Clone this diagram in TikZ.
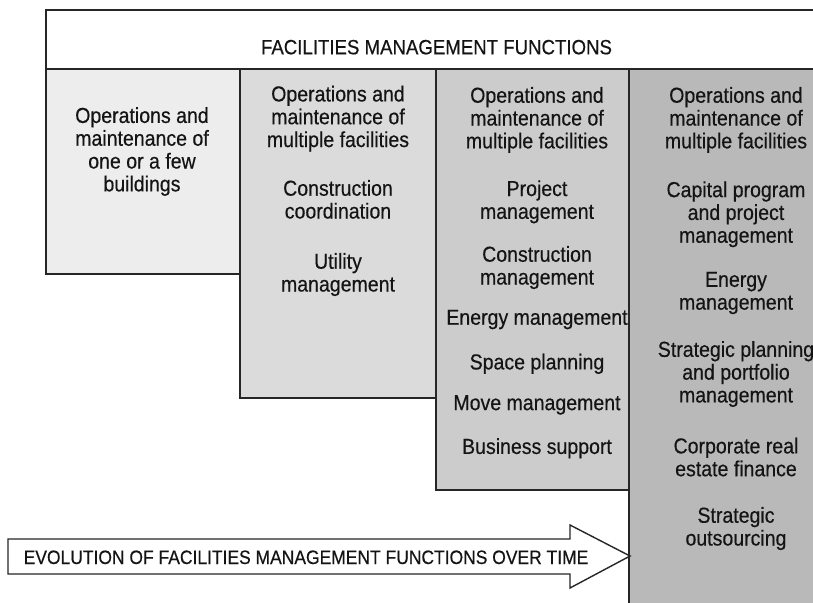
\documentclass[tikz,border=0pt]{standalone}
\usepackage{fontspec}
\setmainfont{Liberation Sans}[FakeStretch=0.9, FakeBold=0.4]
\definecolor{colA}{gray}{0.93}
\definecolor{colB}{gray}{0.86}
\definecolor{colC}{gray}{0.80}
\definecolor{colD}{gray}{0.725}
\definecolor{ink}{gray}{0.15}
\definecolor{textink}{gray}{0.08}
\begin{document}
\begin{tikzpicture}[x=1pt,y=-1pt,
  box/.style={draw=ink, line width=1.6pt},
  txt/.style={font=\fontsize{21.7}{22.8}\selectfont, align=center, inner sep=0pt, anchor=north, text=textink},
  title/.style={font=\fontsize{20.7}{23}\selectfont, inner sep=0pt, anchor=base, text=textink},
  arrowtxt/.style={font=\fontsize{19.4}{22}\selectfont, inner sep=0pt, anchor=base, text=textink}]
\useasboundingbox (0,0) rectangle (813,602);
\clip (0,0) rectangle (813,602);
\fill[white] (0,0) rectangle (813,602);
% header
\draw[box, fill=white] (46,10) rectangle (860,69);
\node[title] (hdr) at (436.5,54.3) {FACILITIES MANAGEMENT FUNCTIONS};
% columns
\draw[box, fill=colA] (46,69) rectangle (240,274);
\draw[box, fill=colB] (240,69) rectangle (436,398);
\draw[box, fill=colC] (436,69) rectangle (629,490);
\draw[box, fill=colD] (629,69) rectangle (860,640);
% column 1
\node[txt] (c1a) at (142,107) {Operations and\\maintenance of\\one or a few\\buildings};
% column 2
\node[txt] (c2a) at (338,85.5) {Operations and\\maintenance of\\multiple facilities};
\node[txt] (c2b) at (338,179.8) {Construction\\coordination};
\node[txt] (c2c) at (338,252.8) {Utility\\management};
% column 3
\node[txt] (c3a) at (537,86.8) {Operations and\\maintenance of\\multiple facilities};
\node[txt] (c3b) at (537,180.1) {Project\\management};
\node[txt] (c3c) at (537,245.8) {Construction\\management};
\node[txt] (c3d) at (537,309.6) {Energy management};
\node[txt] (c3e) at (537,353.5) {Space planning};
\node[txt] (c3f) at (537,395) {Move management};
\node[txt] (c3g) at (537,438) {Business support};
% column 4
\node[txt] (c4a) at (736,86.8) {Operations and\\maintenance of\\multiple facilities};
\node[txt] (c4b) at (736,181.2) {Capital program\\and project\\management};
\node[txt] (c4c) at (736,271.7) {Energy\\management};
\node[txt] (c4d) at (736,340.9) {Strategic planning\\and portfolio\\management};
\node[txt] (c4e) at (736,437.5) {Corporate real\\estate finance};
\node[txt] (c4f) at (736,506.8) {Strategic\\outsourcing};
% arrow
\draw[draw=ink, line width=1.4pt, fill=white, line join=miter]
  (8,539) -- (570,539) -- (570,525) -- (630,556) -- (570,588) -- (570,574) -- (8,574) -- cycle;
\node[arrowtxt] (evo) at (306,564) {EVOLUTION OF FACILITIES MANAGEMENT FUNCTIONS OVER TIME};
\end{tikzpicture}
\end{document}
